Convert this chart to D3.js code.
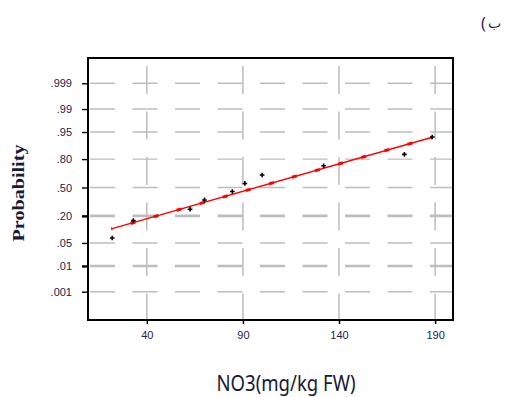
<!DOCTYPE html>
<html lang="en">
<head>
    <meta charset="UTF-8">
    <title>Probability Plot</title>
    <script src="https://d3js.org/d3.v7.min.js"></script>
    <style>
        body { margin: 0; background: #fff; }
        .tick text { fill: #22224a; font-family: "Liberation Sans", Arial, sans-serif; font-size: 11px; }
    </style>
</head>
<body>
<svg id="main" width="505" height="397"></svg>
<script>
    // NO3 values (mg/kg FW) and their plotted probabilities
    let no3 = [22, 33, 62.5, 70, 84.5, 91, 100, 132, 174, 188.5];
    let prob = [0.067, 0.163, 0.26, 0.356, 0.452, 0.548, 0.644, 0.74, 0.837, 0.933];
    // fitted normal line
    let fitMean = 97, fitSd = 61.4;
    let fitRange = [21.5, 188.5];
    let xTicks = [40, 90, 140, 190];
    let yTicks = [0.999, 0.99, 0.95, 0.80, 0.50, 0.20, 0.05, 0.01, 0.001];
    let yTickLabels = ['.999', '.99', '.95', '.80', '.50', '.20', '.05', '.01', '.001'];
    let boldRows = [0.20, 0.01];

    // inverse normal cdf (Acklam) for the probability axis
    function qnorm(p) {
        let a = [-39.69683028665376, 220.9460984245205, -275.9285104469687, 138.3577518672690, -30.66479806614716, 2.506628277459239];
        let b = [-54.47609879822406, 161.5858368580409, -155.6989798598866, 66.80131188771972, -13.28068155288572];
        let c = [-0.007784894002430293, -0.3223964580411365, -2.400758277161838, -2.549732539343734, 4.374664141464968, 2.938163982698783];
        let d = [0.007784695709041462, 0.3224671290700398, 2.445134137142996, 3.754408661907416];
        let q, r;
        if (p < 0.02425) {
            q = Math.sqrt(-2 * Math.log(p));
            return (((((c[0]*q+c[1])*q+c[2])*q+c[3])*q+c[4])*q+c[5]) / ((((d[0]*q+d[1])*q+d[2])*q+d[3])*q+1);
        } else if (p > 1 - 0.02425) {
            q = Math.sqrt(-2 * Math.log(1 - p));
            return -(((((c[0]*q+c[1])*q+c[2])*q+c[3])*q+c[4])*q+c[5]) / ((((d[0]*q+d[1])*q+d[2])*q+d[3])*q+1);
        }
        q = p - 0.5; r = q * q;
        return (((((a[0]*r+a[1])*r+a[2])*r+a[3])*r+a[4])*r+a[5])*q / (((((b[0]*r+b[1])*r+b[2])*r+b[3])*r+b[4])*r+1);
    }

    let svg = d3.select('#main');
    let box = {left: 88, right: 453, top: 58, bottom: 320};

    let xScale = d3.scaleLinear().domain([9.4, 199.3]).range([box.left, box.right]);
    let zScale = d3.scaleLinear().domain([-3.93, 3.84]).range([box.bottom, box.top]);
    let yScale = p => zScale(qnorm(p));

    // grid
    let grid = svg.append('g');
    grid.selectAll('line.h')
        .data(yTicks)
        .enter()
        .append('line')
        .attr('x1', box.left).attr('x2', box.right)
        .attr('y1', d => yScale(d)).attr('y2', d => yScale(d))
        .attr('stroke', '#bdbdbd')
        .attr('stroke-width', d => boldRows.includes(d) ? 2.6 : 1.4)
        .attr('stroke-dasharray', '25,17.5')
        .attr('stroke-dashoffset', 40.5);
    grid.selectAll('line.v')
        .data(xTicks)
        .enter()
        .append('line')
        .attr('x1', d => xScale(d)).attr('x2', d => xScale(d))
        .attr('y1', box.top).attr('y2', box.bottom)
        .attr('stroke', '#bdbdbd')
        .attr('stroke-width', 1.5)
        .attr('stroke-dasharray', '28,17.5')
        .attr('stroke-dashoffset', 37.5);

    // axes
    let xAxis = d3.axisBottom(xScale).tickValues(xTicks).tickSize(4).tickSizeOuter(0);
    let gx = svg.append('g').attr('transform', `translate(0,${box.bottom})`).call(xAxis);
    gx.select('.domain').remove();
    gx.selectAll('.tick line').attr('stroke', '#000').attr('stroke-width', 1.5);
    gx.selectAll('.tick text').attr('dy', '1.1em');

    let yAxis = d3.axisLeft(zScale)
        .tickValues(yTicks.map(qnorm))
        .tickFormat((d, i) => yTickLabels[i])
        .tickSize(6).tickSizeOuter(0).tickPadding(10);
    let gy = svg.append('g').attr('transform', `translate(${box.left},0)`).call(yAxis);
    gy.select('.domain').remove();
    gy.selectAll('.tick line').attr('stroke', '#000')
        .attr('stroke-width', (d, i) => boldRows.includes(yTicks[i]) ? 2.4 : 1.4);

    // frame
    svg.append('rect')
        .attr('x', box.left).attr('y', box.top)
        .attr('width', box.right - box.left).attr('height', box.bottom - box.top)
        .attr('fill', 'none').attr('stroke', '#000').attr('stroke-width', 2);

    // fit line
    let fitLine = d3.line()
        .x(d => xScale(d))
        .y(d => zScale((d - fitMean) / fitSd));
    svg.append('path')
        .attr('d', fitLine(fitRange))
        .attr('stroke', '#ff0000').attr('stroke-width', 1.4).attr('fill', 'none');
    svg.append('path')
        .attr('d', fitLine(fitRange))
        .attr('stroke', '#ff0000').attr('stroke-width', 3)
        .attr('fill', 'none')
        .attr('stroke-dasharray', '5,19').attr('stroke-dashoffset', -20);

    // points
    svg.selectAll('path.pt')
        .data(no3)
        .enter()
        .append('path')
        .attr('class', 'pt')
        .attr('d', d3.symbol().type(d3.symbolCross).size(12))
        .attr('transform', (d, i) => `translate(${xScale(d)},${yScale(prob[i])})`)
        .attr('fill', '#000');

    // titles
    svg.append('text')
        .attr('transform', 'translate(24,193) rotate(-90)')
        .attr('text-anchor', 'middle')
        .attr('textLength', 97).attr('lengthAdjust', 'spacingAndGlyphs')
        .style('font-family', '"Liberation Serif", "Times New Roman", serif')
        .style('font-size', '16px').style('font-weight', 'bold')
        .style('fill', '#1a1a33')
        .text('Probability');

    svg.append('text')
        .attr('x', 286).attr('y', 391)
        .attr('text-anchor', 'middle')
        .attr('textLength', 139).attr('lengthAdjust', 'spacingAndGlyphs')
        .style('font-family', '"Noto Sans", sans-serif')
        .style('font-size', '21px')
        .style('fill', '#1a1a33')
        .text('NO3(mg/kg FW)');

    // panel label, drawn as two pieces to avoid bidi reordering
    let panel = svg.append('g')
        .style('font-family', '"Noto Sans", "DejaVu Sans", sans-serif')
        .style('fill', '#1f1f4f');
    panel.append('text').attr('x', 481).attr('y', 29).style('font-size', '16px').text('(');
    panel.append('text').attr('x', 488).attr('y', 28)
        .style('font-size', '14px').text('ب');
</script>
</body>
</html>
